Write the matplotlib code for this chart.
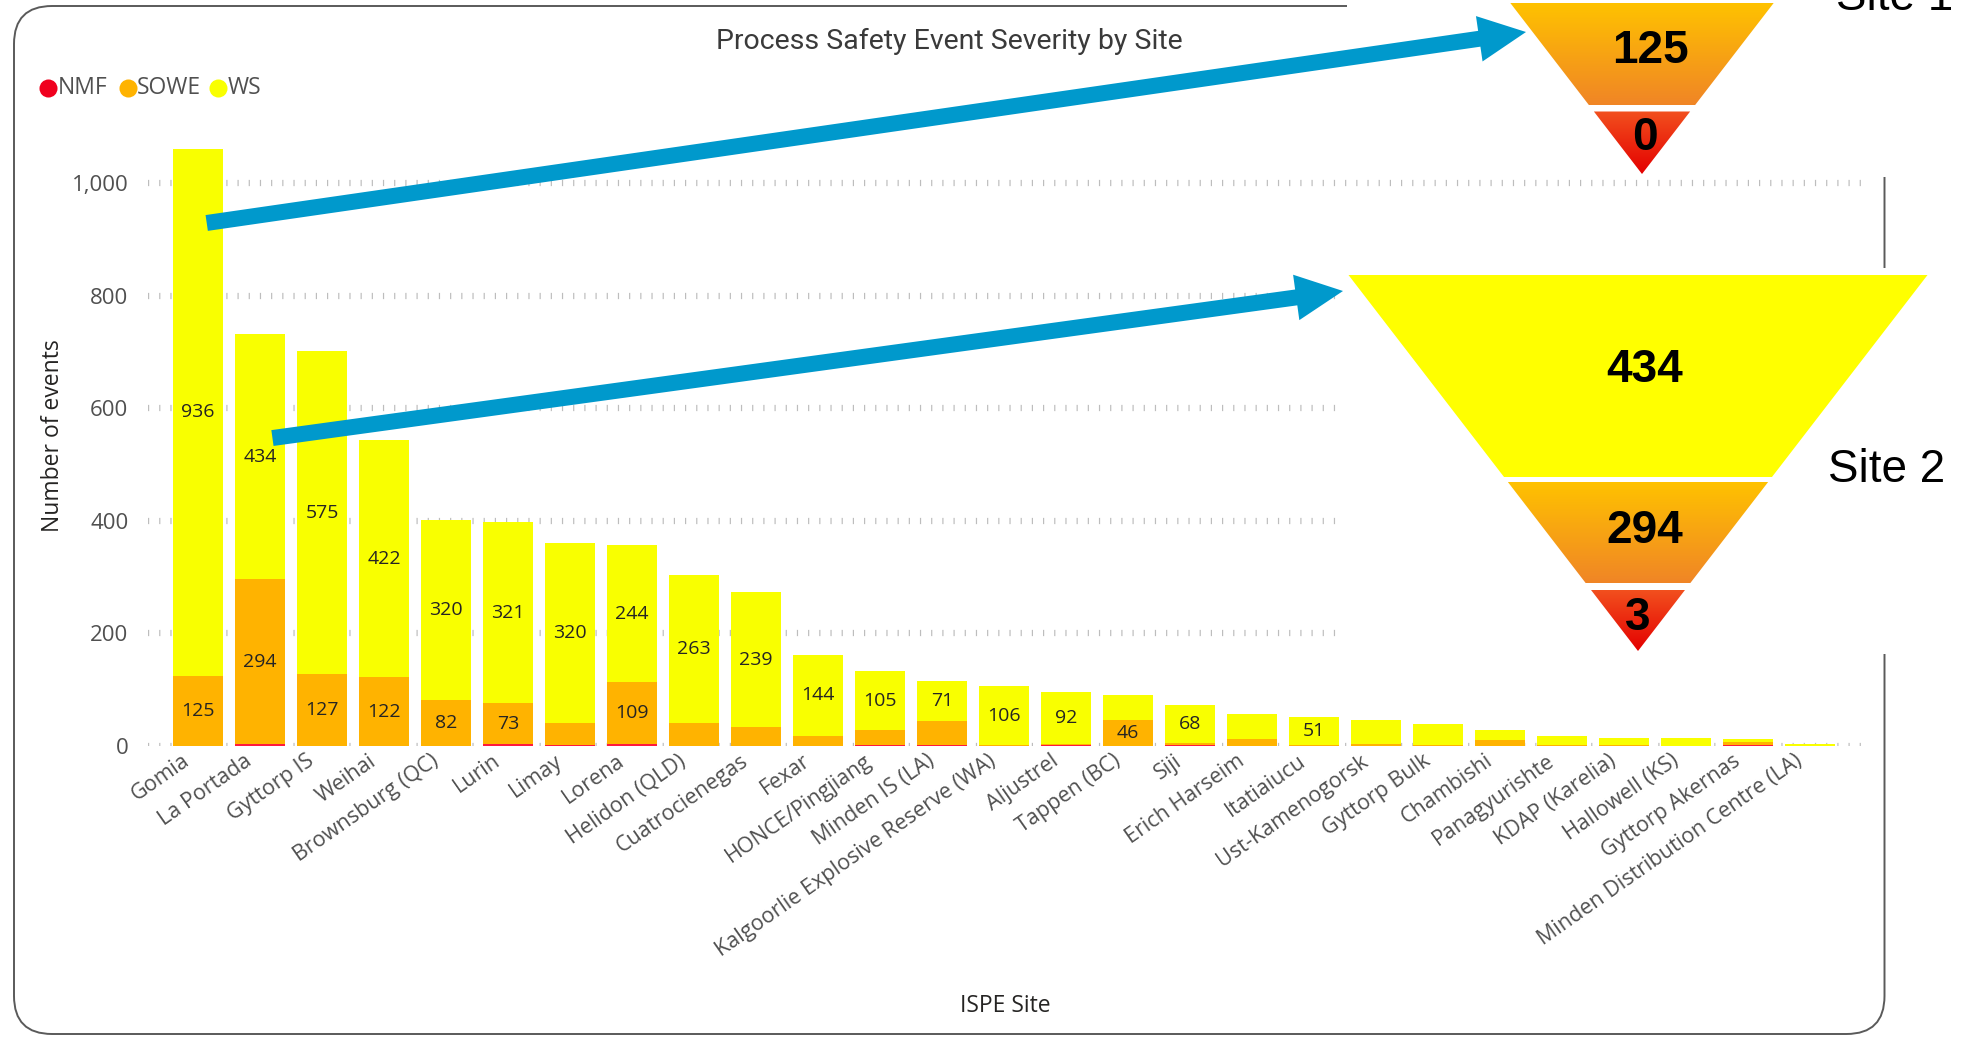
import numpy as np
import matplotlib

matplotlib.use("Agg")
import matplotlib.pyplot as plt
from matplotlib.patches import Polygon, Rectangle, FancyBboxPatch
from matplotlib.colors import LinearSegmentedColormap
from matplotlib.transforms import ScaledTranslation

sites = [
    "Gomia", "La Portada", "Gyttorp IS", "Weihai", "Brownsburg (QC)", "Lurin",
    "Limay", "Lorena", "Helidon (QLD)", "Cuatrocienegas", "Fexar",
    "HONCE/Pingjiang", "Minden IS (LA)", "Kalgoorlie Explosive Reserve (WA)",
    "Aljustrel", "Tappen (BC)", "Siji", "Erich Harseim", "Itatiaiucu",
    "Ust-Kamenogorsk", "Gyttorp Bulk", "Chambishi", "Panagyurishte",
    "KDAP (Karelia)", "Hallowell (KS)", "Gyttorp Akernas",
    "Minden Distribution Centre (LA)",
]
ws = [936, 434, 575, 422, 320, 321, 320, 244, 263, 239, 144, 105, 71, 106,
      92, 45, 68, 45, 51, 44, 38, 17, 16, 14, 14, 6, 3]
sowe = [125, 294, 127, 122, 82, 73, 40, 109, 41, 34, 18, 27, 42, 1, 3, 46,
        4, 12, 1, 3, 1, 11, 2, 1, 0, 6, 0]
nmf = [0, 3, 0, 0, 0, 3, 1, 4, 0, 0, 0, 1, 2, 0, 1, 0, 1, 0, 0, 0, 0, 0, 0,
       0, 0, 1, 0]
yticks = [0, 200, 400, 600, 800, 1000]

C_WS = "#F9FF00"
C_SOWE = "#FFB300"
C_NMF = "#FF1A3C"
C_TXT = "#252423"
C_AX = "#505050"
C_ARROW = "#0099CC"
FONT = "Open Sans"

W, H = 1964, 1038
fig = plt.figure(figsize=(W / 100, H / 100), dpi=100)
plt.rcParams["font.family"] = [FONT, "DejaVu Sans"]

# main chart axes (pixel layout from the reference)
x_lo, x_hi = -0.81, 26.85
y_hi = 1100
ax_l, ax_r, ax_b, ax_t = 147.8, 1863, 746, 126.7
ax = fig.add_axes([ax_l / W, 1 - ax_b / H, (ax_r - ax_l) / W, (ax_b - ax_t) / H])

x = np.arange(len(sites))
ws_a, sowe_a, nmf_a = np.array(ws), np.array(sowe), np.array(nmf)
ax.bar(x, nmf_a, width=0.8, color=C_NMF, zorder=2)
ax.bar(x, sowe_a, width=0.8, bottom=nmf_a, color=C_SOWE, zorder=2)
ax.bar(x, ws_a, width=0.8, bottom=nmf_a + sowe_a, color=C_WS, zorder=2)

for i in x:
    if sowe[i] >= 46:
        ax.text(i, nmf[i] + sowe[i] / 2, str(sowe[i]), ha="center", va="center",
                fontsize=14, color=C_TXT, zorder=3)
    if ws[i] >= 46:
        ax.text(i, nmf[i] + sowe[i] + ws[i] / 2, str(ws[i]), ha="center",
                va="center", fontsize=14, color=C_TXT, zorder=3)

ax.set_xlim(x_lo, x_hi)
ax.set_ylim(0, y_hi)
ax.set_yticks(yticks)
ax.set_yticklabels([f"{v:,}" for v in yticks], fontsize=16, color=C_AX)
ax.set_xticks(x)
ax.set_xticklabels([])
# rotated category labels, anchored just below-left of each bar centre
lbl_off = ax.transData + ScaledTranslation(-10 / 100, -13 / 100, fig.dpi_scale_trans)
for i, name in zip(x, sites):
    ax.text(i, 0, name, transform=lbl_off, rotation=35, ha="right", va="center",
            rotation_mode="anchor", fontsize=15.5, color=C_AX, clip_on=False)
ax.tick_params(axis="both", length=0)
ax.tick_params(axis="y", pad=14)
ax.grid(axis="y", color="#bdbdbd", linewidth=4.5, linestyle=(0, (0.19, 1.6)))
ax.set_axisbelow(True)
for s in ax.spines.values():
    s.set_visible(False)
ax.patch.set_alpha(0)

# overlay in pixel coordinates for the card, callouts and funnels
ov = fig.add_axes([0, 0, 1, 1], zorder=5)
ov.set_axis_off()
ov.patch.set_alpha(0)

card = FancyBboxPatch((14, 6), 1884.5 - 14, 1034 - 6,
                      boxstyle="round,pad=0,rounding_size=38",
                      facecolor="none", edgecolor="#5a5a5a", lw=1.4, zorder=1)
ov.add_patch(card)
ov.add_patch(Rectangle((1347, -10), 700, 187, facecolor="white", edgecolor="none", zorder=2))
ov.add_patch(Rectangle((1345, 268), 700, 386, facecolor="white", edgecolor="none", zorder=2))

fig.text(949 / W, 1 - 41 / H, "Process Safety Event Severity by Site",
         ha="center", va="center", fontsize=20.5, family="Roboto", color="#3a3a3a")
fig.text(1005 / W, 1 - 1006 / H, "ISPE Site", ha="center", va="center",
         fontsize=16.5, color=C_TXT)
fig.text(53 / W, 1 - 436 / H, "Number of events", ha="center", va="center",
         rotation=90, fontsize=16.5, color=C_TXT)

# legend
for cx, tx, name, col in [(47.6, 58, "NMF", "#F0001E"), (127.8, 137, "SOWE", C_SOWE),
                          (218, 228, "WS", C_WS)]:
    ov.plot([cx], [88], marker="o", ms=13, color=col, mec="none", zorder=3)
    ov.text(tx, 88, name, ha="left", va="center", fontsize=16.5, color=C_AX, zorder=3)


def funnel_segment(cx, apex_y, y0, y1, k, c_top, c_bot):
    w0 = k * (apex_y - y0)
    w1 = k * (apex_y - y1)
    if w1 < 0.5:
        verts = [(cx - w0, y0), (cx + w0, y0), (cx, y1)]
    else:
        verts = [(cx - w0, y0), (cx + w0, y0), (cx + w1, y1), (cx - w1, y1)]
    poly = Polygon(verts, closed=True, facecolor="none", edgecolor="none", zorder=4)
    ov.add_patch(poly)
    cmap = LinearSegmentedColormap.from_list("g", [c_top, c_bot])
    grad = np.linspace(0, 1, 256)[:, None]
    im = ov.imshow(grad, cmap=cmap, extent=(cx - w0, cx + w0, y1, y0),
                   aspect="auto", origin="upper", zorder=4, interpolation="bilinear")
    im.set_clip_path(poly)


k = 0.77
ORANGE = ("#FFC200", "#F08526")
RED = ("#F2501E", "#E40000")
YELLOW = ("#FFFF00", "#FFFF00")

# Site 1 = Gomia (SOWE, NMF)
funnel_segment(1642, 174, 3, 105, k, *ORANGE)
funnel_segment(1642, 174, 111.5, 174, k, *RED)
lbl = dict(ha="center", va="center", fontsize=33, fontweight="bold",
           family="Liberation Sans", color="black", zorder=6)
ov.text(1650, 51, str(sowe[0]), **lbl)
ov.text(1645, 138, str(nmf[0]), **lbl)

# Site 2 = La Portada (WS, SOWE, NMF)
funnel_segment(1638, 651, 275, 477, k, *YELLOW)
funnel_segment(1638, 651, 482, 583, k, *ORANGE)
funnel_segment(1638, 651, 590, 651, k, *RED)
ov.text(1645, 370, str(ws[1]), **lbl)
ov.text(1645, 531, str(sowe[1]), **lbl)
ov.text(1638, 618, str(nmf[1]), **lbl)

site_txt = dict(ha="left", fontsize=33, family="Liberation Sans", color="black", zorder=6)
ov.text(1836, 10, "Site 1", va="baseline", **site_txt)
ov.text(1828, 470, "Site 2", va="center", **site_txt)

# callout arrows from the bars to the funnels
astyle = "simple,head_length=3.4,head_width=3.3,tail_width=1.15"
for (bx, by), tip in [((0.14, 929), (1526, 32)), ((1.2, 547), (1343, 291))]:
    ov.annotate("", xy=tip, xycoords="data", xytext=(bx, by), textcoords=ax.transData,
                arrowprops=dict(arrowstyle=astyle, mutation_scale=10, color=C_ARROW,
                                lw=0, shrinkA=0, shrinkB=0), zorder=7)

ov.set_xlim(0, W)
ov.set_ylim(H, 0)

fig.savefig("out.png", dpi=100)
